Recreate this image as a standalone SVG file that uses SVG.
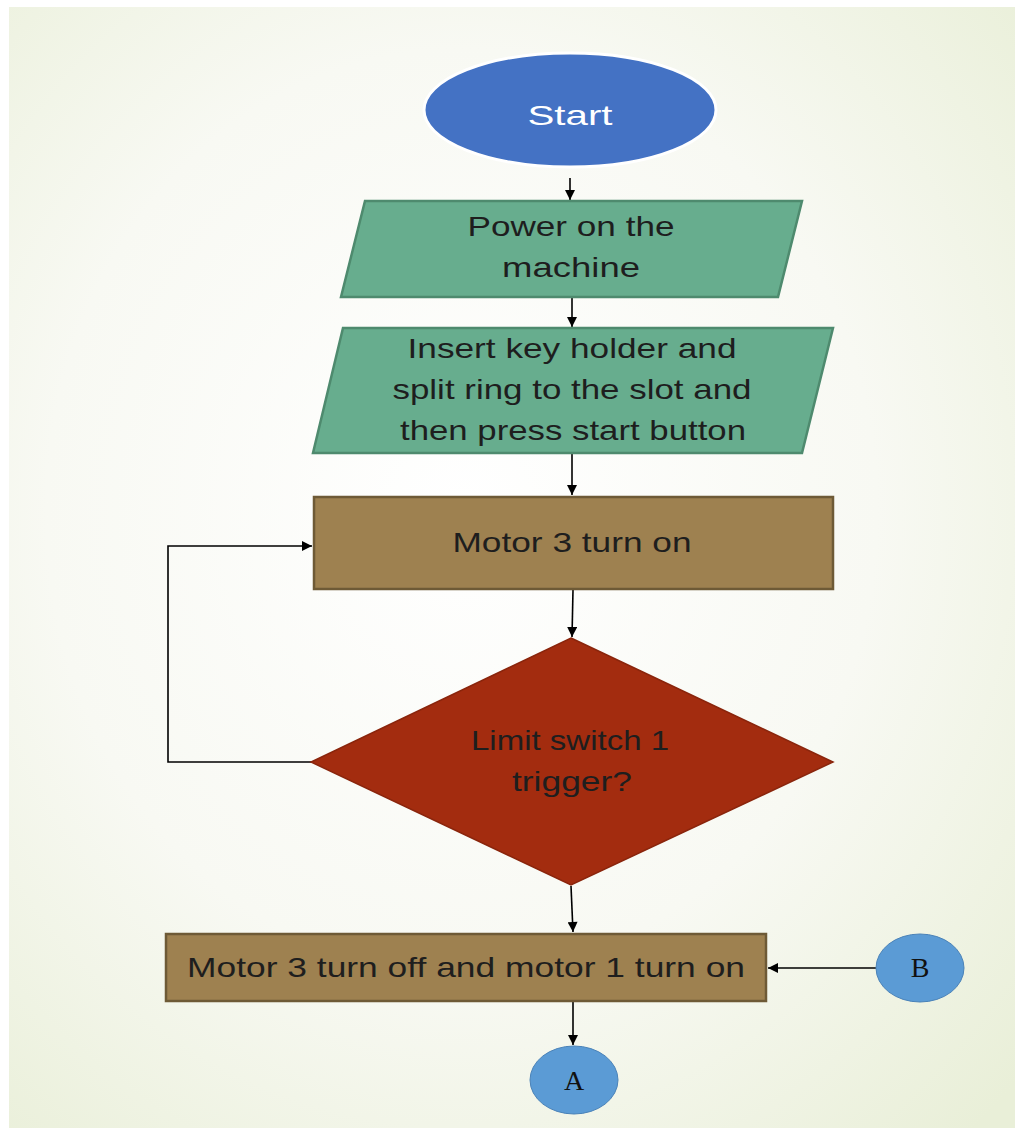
<svg xmlns="http://www.w3.org/2000/svg" width="1015" height="1130" viewBox="0 0 1015 1130">
  <style>
    .lbl { font-family: "Liberation Sans", "DejaVu Sans", sans-serif; font-size: 28px; fill: #1e1e1e; text-anchor: middle; }
    .io { fill: #67AD8E; stroke: #4E8A6E; stroke-width: 2.5; }
    .proc { fill: #9E8150; stroke: #6E5A36; stroke-width: 2.5; }
    .dec { fill: #A32C0F; stroke: #8A250C; stroke-width: 1.5; }
    .conn { fill: #5B9BD5; stroke: #4A82B8; stroke-width: 1; }
    .edge { fill: none; stroke: #000; stroke-width: 1.6; }
    .ref { font-family: "Liberation Serif", "DejaVu Serif", serif; font-size: 28px; fill: #111; text-anchor: middle; }
  </style>
  <defs>
    <radialGradient id="bg" cx="45%" cy="45%" r="75%">
      <stop offset="0" stop-color="#ffffff"/>
      <stop offset="0.55" stop-color="#f8f9f3"/>
      <stop offset="1" stop-color="#e9efd8"/>
    </radialGradient>
    <marker id="arrow" viewBox="0 0 10 10" refX="10" refY="5" markerWidth="11" markerHeight="10" markerUnits="userSpaceOnUse" orient="auto">
      <path d="M0,0 L10,5 L0,10 z" fill="#000"/>
    </marker>
  </defs>

  <!-- page -->
  <rect x="0" y="0" width="1015" height="1130" fill="#ffffff"/>
  <rect x="9" y="7" width="1006" height="1121" fill="url(#bg)"/>

  <!-- connectors -->
  <g id="connectors">
    <line class="edge" x1="570" y1="178" x2="570" y2="200" marker-end="url(#arrow)"/>
    <line class="edge" x1="572" y1="297" x2="572" y2="327" marker-end="url(#arrow)"/>
    <line class="edge" x1="572" y1="453" x2="572" y2="495" marker-end="url(#arrow)"/>
    <line class="edge" x1="573" y1="590" x2="572" y2="637" marker-end="url(#arrow)"/>
    <polyline class="edge" points="311,762 168,762 168,546 312,546" marker-end="url(#arrow)"/>
    <line class="edge" x1="571" y1="886" x2="573" y2="932" marker-end="url(#arrow)"/>
    <line class="edge" x1="876" y1="968" x2="768" y2="968" marker-end="url(#arrow)"/>
    <line class="edge" x1="573" y1="1002" x2="573" y2="1045" marker-end="url(#arrow)"/>
  </g>

  <!-- terminal -->
  <g id="start">
    <ellipse cx="570" cy="110" rx="146" ry="57" fill="#4472C4" stroke="#ffffff" stroke-width="3"/>
    <text class="lbl" x="570" y="125" font-size="38" textLength="85" lengthAdjust="spacingAndGlyphs" style="fill:#ffffff">Start</text>
  </g>

  <g id="power-on">
    <polygon class="io" points="365,201 802,201 778,297 341,297"/>
    <text class="lbl" x="571" y="236" textLength="207" lengthAdjust="spacingAndGlyphs">Power on the</text>
    <text class="lbl" x="571" y="277" textLength="138" lengthAdjust="spacingAndGlyphs">machine</text>
  </g>

  <g id="insert-key">
    <polygon class="io" points="343,328 833,328 802,453 313,453"/>
    <text class="lbl" x="572" y="358" textLength="329" lengthAdjust="spacingAndGlyphs">Insert key holder and</text>
    <text class="lbl" x="572" y="399" textLength="359" lengthAdjust="spacingAndGlyphs">split ring to the slot and</text>
    <text class="lbl" x="573" y="440" textLength="346" lengthAdjust="spacingAndGlyphs">then press start button</text>
  </g>

  <g id="motor3-on">
    <rect class="proc" x="314" y="497" width="519" height="92"/>
    <text class="lbl" x="572" y="552" textLength="239" lengthAdjust="spacingAndGlyphs">Motor 3 turn on</text>
  </g>

  <g id="limit-switch">
    <polygon class="dec" points="571,638 833,762 571,885 311,762"/>
    <text class="lbl" x="570" y="750" textLength="198" lengthAdjust="spacingAndGlyphs">Limit switch 1</text>
    <text class="lbl" x="572" y="791" textLength="120" lengthAdjust="spacingAndGlyphs">trigger?</text>
  </g>

  <g id="motor3-off">
    <rect class="proc" x="166" y="934" width="600" height="67"/>
    <text class="lbl" x="466" y="977" textLength="558" lengthAdjust="spacingAndGlyphs">Motor 3 turn off and motor 1 turn on</text>
  </g>

  <g id="connector-b">
    <ellipse class="conn" cx="920" cy="968" rx="44" ry="34"/>
    <text class="ref" x="920" y="977">B</text>
  </g>

  <g id="connector-a">
    <ellipse class="conn" cx="574" cy="1080" rx="44" ry="34"/>
    <text class="ref" x="574" y="1090">A</text>
  </g>
</svg>
